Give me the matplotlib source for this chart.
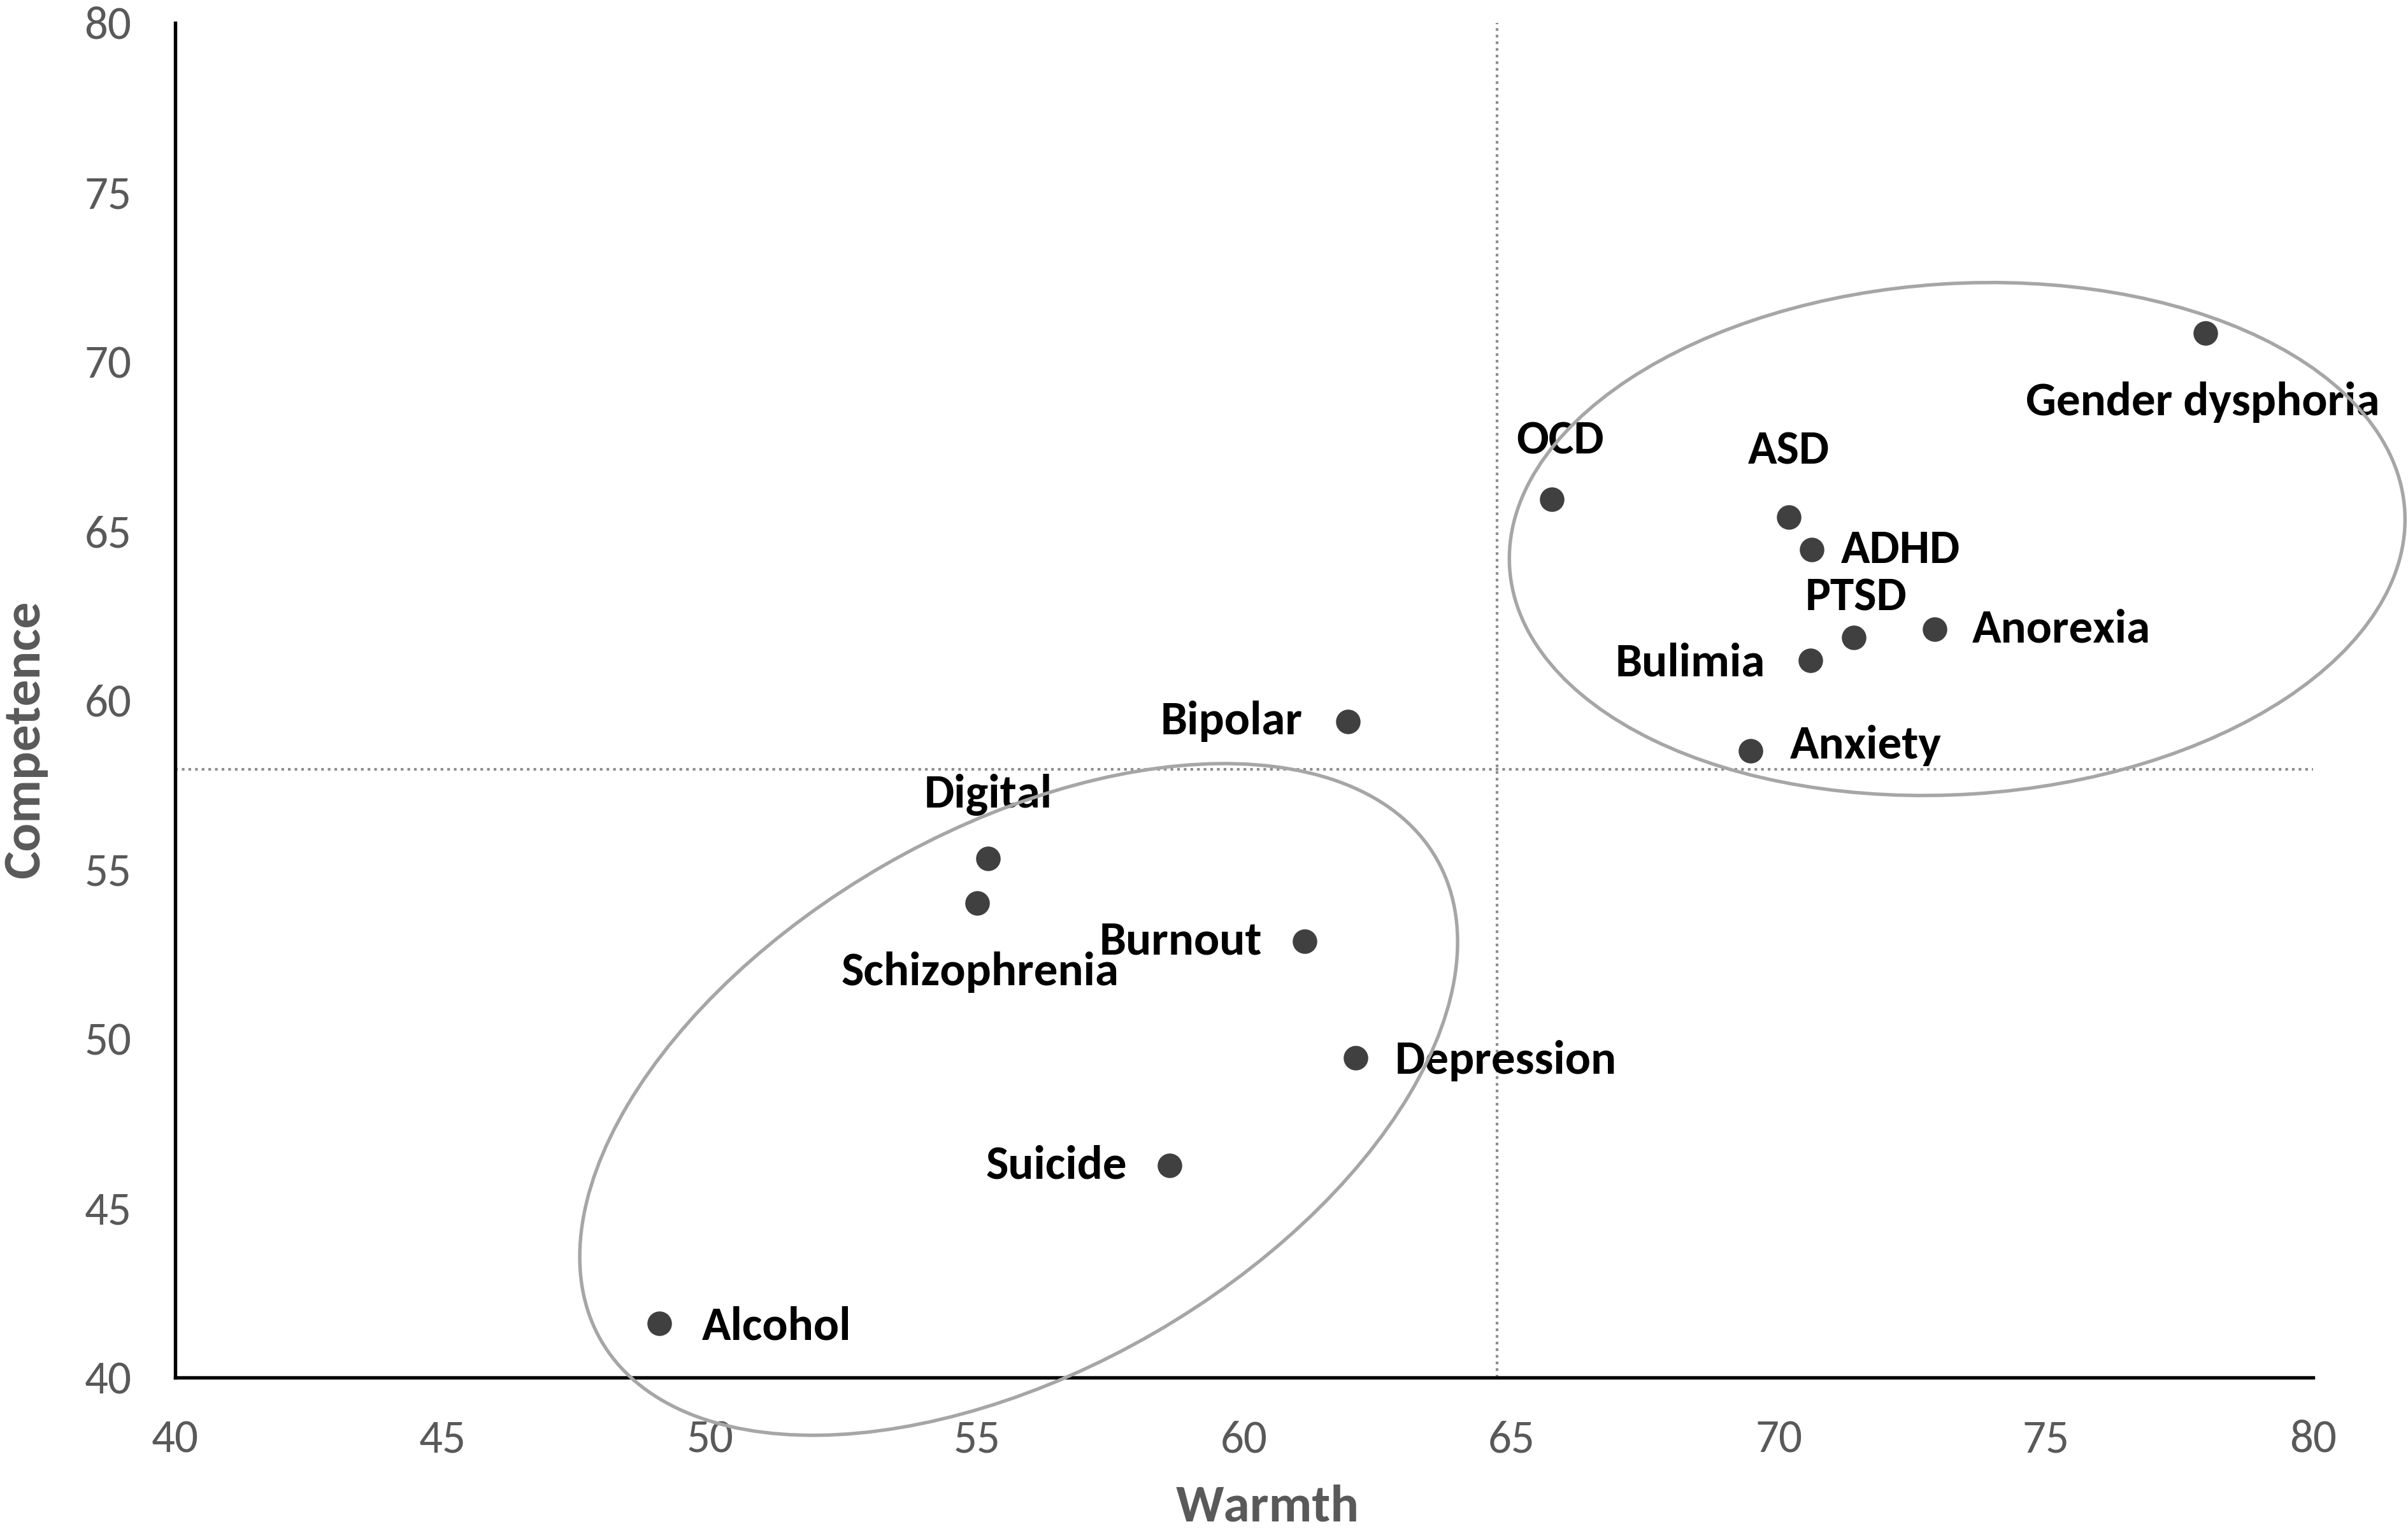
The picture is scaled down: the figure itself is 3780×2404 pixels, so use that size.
import matplotlib
matplotlib.use("Agg")
import matplotlib.pyplot as plt
from matplotlib.patches import Ellipse
from matplotlib.transforms import IdentityTransform
from matplotlib import font_manager

# ---- data ----
labels = ["Gender dysphoria", "OCD", "ASD", "ADHD", "PTSD", "Anorexia", "Bulimia",
          "Anxiety", "Bipolar", "Digital", "Schizophrenia", "Burnout", "Depression",
          "Suicide", "Alcohol"]
warmth = [77.98, 65.76, 70.19, 70.62, 71.40, 72.92, 70.59,
          69.47, 61.94, 55.21, 55.01, 61.13, 62.08, 58.60, 49.06]
competence = [70.84, 65.94, 65.40, 64.44, 61.86, 62.09, 61.18,
              58.50, 59.37, 55.33, 54.01, 52.88, 49.43, 46.26, 41.59]
mean_warmth = 64.73
mean_competence = 57.96
x_ticks = [40, 45, 50, 55, 60, 65, 70, 75, 80]
y_ticks = [40, 45, 50, 55, 60, 65, 70, 75, 80]

# ---- fonts ----
avail = {f.name for f in font_manager.fontManager.ttflist}
fam = "Carlito" if "Carlito" in avail else "Liberation Sans"
plt.rcParams["font.family"] = [fam, "DejaVu Sans"]

DPI = 300
fig = plt.figure(figsize=(3780 / DPI, 2404 / DPI), dpi=DPI)
ax = fig.add_axes([0.0728, 0.1003, 0.8878, 0.8847])
ax.set_xlim(40, 80)
ax.set_ylim(40, 80)

# reference lines (means)
ax.axvline(mean_warmth, color="#8C8C8C", lw=1.0, ls=(0, (1, 1.5)), zorder=1)
ax.axhline(mean_competence, color="#8C8C8C", lw=1.0, ls=(0, (1, 1.5)), zorder=1)

# points
ax.scatter(warmth, competence, s=68, color="#404040", zorder=3, clip_on=False)

# label placement (offset in points, ha, va)
place = {
    "Gender dysphoria": (-1, -26, "center", "center"),
    "OCD": (3, 22, "center", "center"),
    "ASD": (0, 25, "center", "center"),
    "ADHD": (11, 0, "left", "center"),
    "PTSD": (1, 15, "center", "center"),
    "Anorexia": (14, 0, "left", "center"),
    "Bulimia": (-17, -1, "right", "center"),
    "Anxiety": (15, 2, "left", "center"),
    "Bipolar": (-17, 0, "right", "center"),
    "Digital": (0, 24, "center", "center"),
    "Schizophrenia": (1, -26, "center", "center"),
    "Burnout": (-16, 0, "right", "center"),
    "Depression": (15, -1, "left", "center"),
    "Suicide": (-16, 0, "right", "center"),
    "Alcohol": (16, -1, "left", "center"),
}
for lab, x, y in zip(labels, warmth, competence):
    dx, dy, ha, va = place[lab]
    ax.annotate(lab, (x, y), xytext=(dx, dy), textcoords="offset points",
                ha=ha, va=va, fontsize=18, fontweight="bold", color="black",
                zorder=4, annotation_clip=False)

# axes styling
for s in ["top", "right"]:
    ax.spines[s].set_visible(False)
ax.spines["left"].set_linewidth(1.3)
ax.spines["bottom"].set_linewidth(1.3)
ax.set_xticks(x_ticks)
ax.set_yticks(y_ticks)
ax.tick_params(length=0, labelsize=17.5, colors="#595959")
ax.tick_params(axis="y", pad=16.5)
ax.tick_params(axis="x", pad=16)
ax.set_xlabel("Warmth", fontsize=20, fontweight="bold", color="#595959")
ax.set_ylabel("Competence", fontsize=20, fontweight="bold", color="#595959")
ax.xaxis.set_label_coords(0.511, -0.079)
ax.yaxis.set_label_coords(-0.060, 0.471)

# cluster ellipses (drawn in display space)
fig.canvas.draw()
def add_ellipse(center, a_px, b_px, angle):
    cx, cy = ax.transData.transform(center)
    e = Ellipse((cx, cy), 2 * a_px, 2 * b_px, angle=angle, transform=IdentityTransform(),
                fill=False, edgecolor="#A6A6A6", lw=1.3, clip_on=False, zorder=2)
    fig.add_artist(e)

add_ellipse((55.78, 48.21), 757, 424, 30)
add_ellipse((73.34, 64.76), 704, 401, 3.7)

fig.savefig("out.png", dpi=DPI, facecolor="white")
